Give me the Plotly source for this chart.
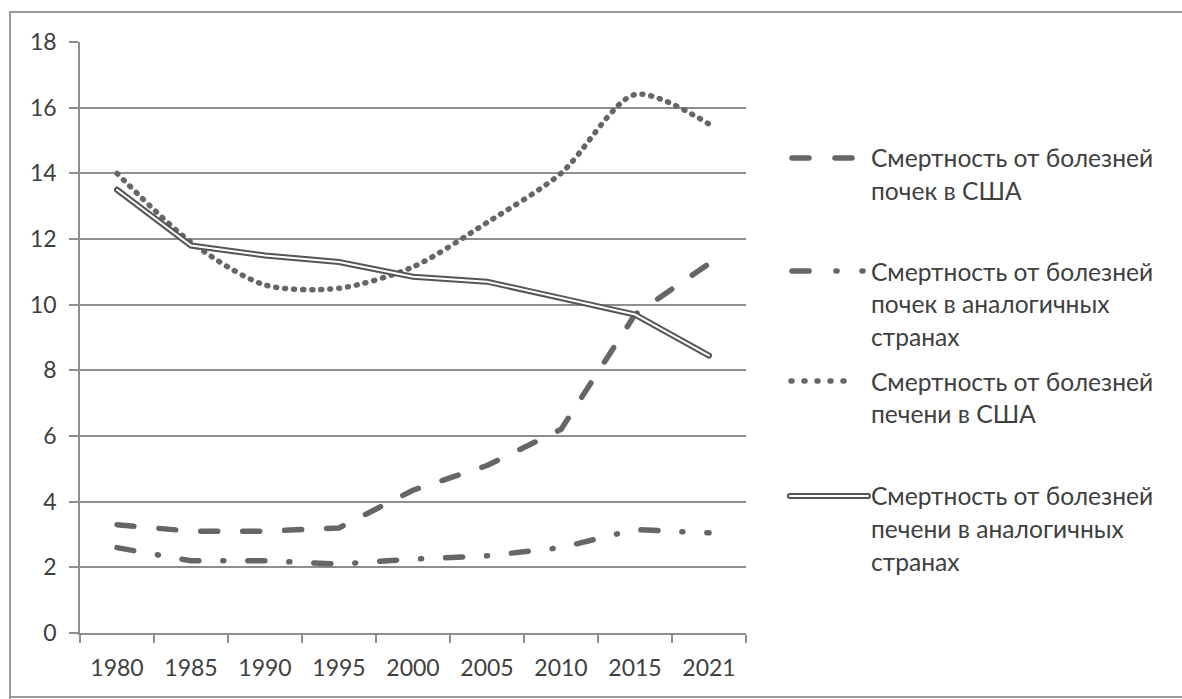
import plotly.graph_objects as go

# ---------------- data ----------------
years = ["1980", "1985", "1990", "1995", "2000", "2005", "2010", "2015", "2021"]
kidney_us = [3.3, 3.1, 3.1, 3.2, 4.35, 5.1, 6.2, 9.7, 11.25]
kidney_peer = [2.6, 2.2, 2.2, 2.1, 2.25, 2.35, 2.6, 3.15, 3.05]
liver_us = [14.0, 11.9, 10.6, 10.5, 11.15, 12.5, 14.0, 16.4, 15.5]
liver_peer = [13.5, 11.8, 11.5, 11.3, 10.85, 10.7, 10.2, 9.7, 8.45]

legend_lines = [
    ["Смертность от болезней", "почек в США"],
    ["Смертность от болезней", "почек в аналогичных", "странах"],
    ["Смертность от болезней", "печени в США"],
    ["Смертность от болезней", "печени в аналогичных", "странах"],
]
y_ticks = [0, 2, 4, 6, 8, 10, 12, 14, 16, 18]

# ---------------- styling ----------------
W, H = 1182, 699
L, R, T, B = 80, 746, 42, 633  # plot area pixel box
LINE = "#666666"
DARK = "#555555"
GRID = "#8e8e8e"
TEXT = "#404040"
FONT = "Lato"

DASH_US = "17px,25px"
DASH_PEER = "17px,24px,1px,24px"
DOT_US = "1px,8px"


def px(x):
    return (x - L) / (R - L)


def py(y):
    return (B - y) / (B - T)


fig = go.Figure()

fig.add_trace(go.Scatter(x=years, y=kidney_us, mode="lines", name="kidney_us",
                         line=dict(color=LINE, width=5.5, dash=DASH_US)))
fig.add_trace(go.Scatter(x=years, y=kidney_peer, mode="lines", name="kidney_peer",
                         line=dict(color=LINE, width=5.5, dash=DASH_PEER)))
fig.add_trace(go.Scatter(x=years, y=liver_us, mode="lines", name="liver_us",
                         line=dict(color=LINE, width=5.5, dash=DOT_US,
                                   shape="spline", smoothing=0.8)))
fig.add_trace(go.Scatter(x=years, y=liver_peer, mode="lines", name="liver_peer",
                         line=dict(color=DARK, width=6)))
fig.add_trace(go.Scatter(x=years, y=liver_peer, mode="lines", name="liver_peer_inner",
                         line=dict(color="white", width=2), hoverinfo="skip"))

shapes = []
# frame of the chart area (scanned page border)
shapes.append(dict(type="line", xref="paper", yref="paper", x0=px(10), x1=px(10),
                   y0=py(12), y1=py(H + 10), line=dict(color="#9a9a9a", width=2)))
shapes.append(dict(type="line", xref="paper", yref="paper", x0=px(10), x1=px(W + 10),
                   y0=py(12), y1=py(12), line=dict(color="#9a9a9a", width=2)))
shapes.append(dict(type="line", xref="paper", yref="paper", x0=px(10), x1=px(W + 10),
                   y0=py(697), y1=py(697), line=dict(color="#9a9a9a", width=2)))

# legend samples
sym_y = [158, 271, 381, 496]
shapes.append(dict(type="line", xref="paper", yref="paper", x0=px(792), x1=px(856),
                   y0=py(sym_y[0]), y1=py(sym_y[0]),
                   line=dict(color=LINE, width=5.5, dash="17px,26px")))
shapes.append(dict(type="line", xref="paper", yref="paper", x0=px(792), x1=px(863),
                   y0=py(sym_y[1]), y1=py(sym_y[1]),
                   line=dict(color=LINE, width=5.5, dash="17px,27px,1px,25px")))
shapes.append(dict(type="line", xref="paper", yref="paper", x0=px(791), x1=px(856),
                   y0=py(sym_y[2]), y1=py(sym_y[2]),
                   line=dict(color=LINE, width=5.5, dash="1px,12px")))
shapes.append(dict(type="line", xref="paper", yref="paper", x0=px(790), x1=px(868),
                   y0=py(sym_y[3]), y1=py(sym_y[3]),
                   line=dict(color=DARK, width=6)))
shapes.append(dict(type="line", xref="paper", yref="paper", x0=px(790), x1=px(868),
                   y0=py(sym_y[3]), y1=py(sym_y[3]),
                   line=dict(color="white", width=2)))

annotations = []
line_gap = 32.5
for entry, y0 in zip(legend_lines, sym_y):
    for i, txt in enumerate(entry):
        annotations.append(dict(text=txt, xref="paper", yref="paper",
                                x=px(869), y=py(y0 + i * line_gap),
                                xanchor="left", yanchor="middle", showarrow=False,
                                font=dict(family=FONT, size=24.6, color=TEXT)))

fig.update_layout(
    width=W, height=H,
    margin=dict(l=L, r=W - R, t=T, b=H - B, pad=0),
    plot_bgcolor="white", paper_bgcolor="white",
    showlegend=False,
    font=dict(family=FONT, color=TEXT),
    shapes=shapes,
    annotations=annotations,
)
fig.update_xaxes(type="category", categoryorder="array", categoryarray=years,
                 range=[-0.5, len(years) - 0.5],
                 showgrid=False, showline=True, linecolor=GRID, linewidth=1.5,
                 ticks="outside", tickson="boundaries", ticklen=8, tickwidth=1.5,
                 tickcolor=GRID, tickfont=dict(family=FONT, size=23, color=TEXT),
                 ticklabelstandoff=14)
fig.update_yaxes(range=[0, 18], tickmode="array", tickvals=y_ticks,
                 showgrid=True, gridcolor=GRID, gridwidth=1.5, zeroline=False,
                 showline=True, linecolor=GRID, linewidth=1.5,
                 ticks="outside", ticklen=9, tickwidth=1.5, tickcolor=GRID,
                 tickfont=dict(family=FONT, size=23, color=TEXT),
                 ticklabelstandoff=8)

post = ("document.body.style.margin='0';"
        "var s=document.createElement('style');"
        "s.innerHTML='body{margin:0 !important;overflow:hidden;} "
        ".scatterlayer .js-line, .shapelayer path {stroke-linecap:round !important;}';"
        "document.head.appendChild(s);")
fig.write_html("out.html", post_script=post, config={"displayModeBar": False})
